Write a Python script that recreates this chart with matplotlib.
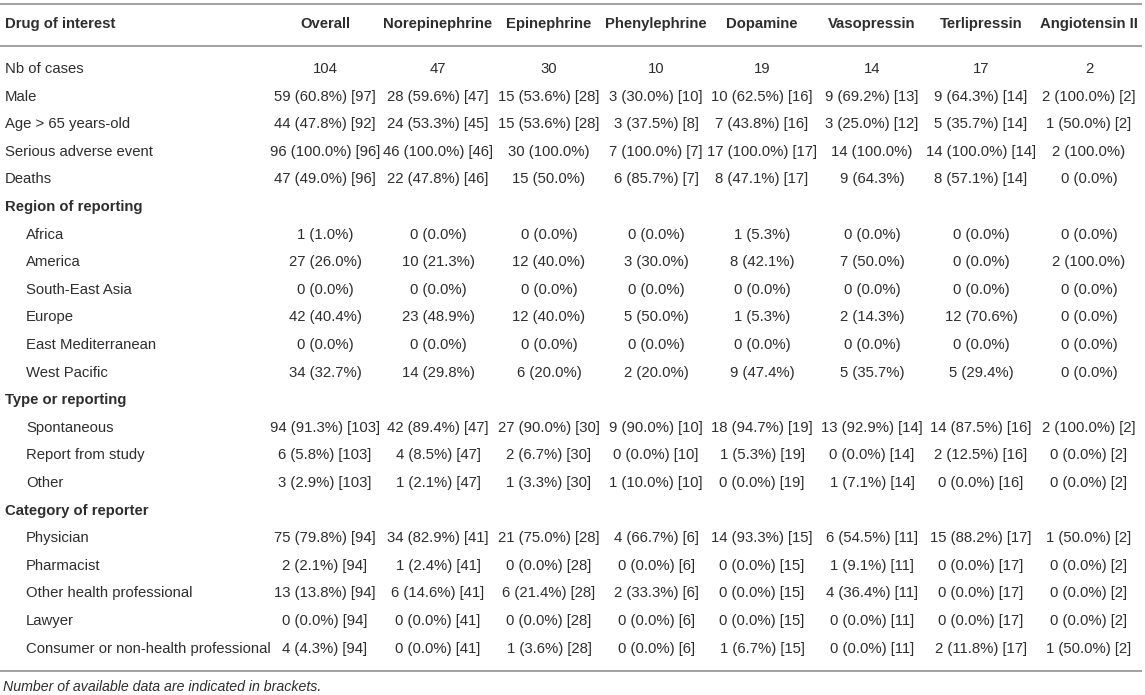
import matplotlib
matplotlib.use("Agg")
import matplotlib.pyplot as plt

plt.rcParams['font.family'] = ['Liberation Sans', 'DejaVu Sans']

# ---- data ----
drugs = ["Overall", "Norepinephrine", "Epinephrine", "Phenylephrine",
         "Dopamine", "Vasopressin", "Terlipressin", "Angiotensin II"]

nb_cases = ["104", "47", "30", "10", "19", "14", "17", "2"]
male = ["59 (60.8%) [97]", "28 (59.6%) [47]", "15 (53.6%) [28]", "3 (30.0%) [10]",
        "10 (62.5%) [16]", "9 (69.2%) [13]", "9 (64.3%) [14]", "2 (100.0%) [2]"]
age_65 = ["44 (47.8%) [92]", "24 (53.3%) [45]", "15 (53.6%) [28]", "3 (37.5%) [8]",
          "7 (43.8%) [16]", "3 (25.0%) [12]", "5 (35.7%) [14]", "1 (50.0%) [2]"]
serious = ["96 (100.0%) [96]", "46 (100.0%) [46]", "30 (100.0%)", "7 (100.0%) [7]",
           "17 (100.0%) [17]", "14 (100.0%)", "14 (100.0%) [14]", "2 (100.0%)"]
deaths = ["47 (49.0%) [96]", "22 (47.8%) [46]", "15 (50.0%)", "6 (85.7%) [7]",
          "8 (47.1%) [17]", "9 (64.3%)", "8 (57.1%) [14]", "0 (0.0%)"]

africa = ["1 (1.0%)", "0 (0.0%)", "0 (0.0%)", "0 (0.0%)", "1 (5.3%)", "0 (0.0%)", "0 (0.0%)", "0 (0.0%)"]
america = ["27 (26.0%)", "10 (21.3%)", "12 (40.0%)", "3 (30.0%)", "8 (42.1%)", "7 (50.0%)", "0 (0.0%)", "2 (100.0%)"]
se_asia = ["0 (0.0%)"] * 8
europe = ["42 (40.4%)", "23 (48.9%)", "12 (40.0%)", "5 (50.0%)", "1 (5.3%)", "2 (14.3%)", "12 (70.6%)", "0 (0.0%)"]
east_med = ["0 (0.0%)"] * 8
west_pacific = ["34 (32.7%)", "14 (29.8%)", "6 (20.0%)", "2 (20.0%)", "9 (47.4%)", "5 (35.7%)", "5 (29.4%)", "0 (0.0%)"]

spontaneous = ["94 (91.3%) [103]", "42 (89.4%) [47]", "27 (90.0%) [30]", "9 (90.0%) [10]",
               "18 (94.7%) [19]", "13 (92.9%) [14]", "14 (87.5%) [16]", "2 (100.0%) [2]"]
from_study = ["6 (5.8%) [103]", "4 (8.5%) [47]", "2 (6.7%) [30]", "0 (0.0%) [10]",
              "1 (5.3%) [19]", "0 (0.0%) [14]", "2 (12.5%) [16]", "0 (0.0%) [2]"]
other_type = ["3 (2.9%) [103]", "1 (2.1%) [47]", "1 (3.3%) [30]", "1 (10.0%) [10]",
              "0 (0.0%) [19]", "1 (7.1%) [14]", "0 (0.0%) [16]", "0 (0.0%) [2]"]

physician = ["75 (79.8%) [94]", "34 (82.9%) [41]", "21 (75.0%) [28]", "4 (66.7%) [6]",
             "14 (93.3%) [15]", "6 (54.5%) [11]", "15 (88.2%) [17]", "1 (50.0%) [2]"]
pharmacist = ["2 (2.1%) [94]", "1 (2.4%) [41]", "0 (0.0%) [28]", "0 (0.0%) [6]",
              "0 (0.0%) [15]", "1 (9.1%) [11]", "0 (0.0%) [17]", "0 (0.0%) [2]"]
other_health = ["13 (13.8%) [94]", "6 (14.6%) [41]", "6 (21.4%) [28]", "2 (33.3%) [6]",
                "0 (0.0%) [15]", "4 (36.4%) [11]", "0 (0.0%) [17]", "0 (0.0%) [2]"]
lawyer = ["0 (0.0%) [94]", "0 (0.0%) [41]", "0 (0.0%) [28]", "0 (0.0%) [6]",
          "0 (0.0%) [15]", "0 (0.0%) [11]", "0 (0.0%) [17]", "0 (0.0%) [2]"]
consumer = ["4 (4.3%) [94]", "0 (0.0%) [41]", "1 (3.6%) [28]", "0 (0.0%) [6]",
            "1 (6.7%) [15]", "0 (0.0%) [11]", "2 (11.8%) [17]", "1 (50.0%) [2]"]

footnote = "Number of available data are indicated in brackets."

# (label, values, kind) kind: "row", "section", "sub"
rows = [
    ("Nb of cases", nb_cases, "row"),
    ("Male", male, "row"),
    ("Age > 65 years-old", age_65, "row"),
    ("Serious adverse event", serious, "row"),
    ("Deaths", deaths, "row"),
    ("Region of reporting", None, "section"),
    ("Africa", africa, "sub"),
    ("America", america, "sub"),
    ("South-East Asia", se_asia, "sub"),
    ("Europe", europe, "sub"),
    ("East Mediterranean", east_med, "sub"),
    ("West Pacific", west_pacific, "sub"),
    ("Type or reporting", None, "section"),
    ("Spontaneous", spontaneous, "sub"),
    ("Report from study", from_study, "sub"),
    ("Other", other_type, "sub"),
    ("Category of reporter", None, "section"),
    ("Physician", physician, "sub"),
    ("Pharmacist", pharmacist, "sub"),
    ("Other health professional", other_health, "sub"),
    ("Lawyer", lawyer, "sub"),
    ("Consumer or non-health professional", consumer, "sub"),
]

# ---- layout (pixels) ----
W, H = 1145, 695
col_x = [325, 438, 549, 656, 762, 872, 981, 1089]
label_x, indent_x = 5, 26
header_y = 24
first_row_y = 69
row_h = 27.6
fs = 10.7
txt = "#2e2e2e"
rule = "#9a9a9a"

fig = plt.figure(figsize=(W / 100, H / 100), dpi=100)
ax = fig.add_axes([0, 0, 1, 1])
ax.set_xlim(0, W)
ax.set_ylim(H, 0)
ax.axis("off")

ax.text(label_x, header_y, "Drug of interest", fontsize=fs, fontweight="bold",
        color=txt, ha="left", va="center")
for x, d in zip(col_x, drugs):
    ax.text(x, header_y, d, fontsize=fs, fontweight="bold", color=txt,
            ha="center", va="center")

for i, (label, vals, kind) in enumerate(rows):
    y = first_row_y + i * row_h
    if kind == "section":
        ax.text(label_x, y, label, fontsize=fs, fontweight="bold", color=txt,
                ha="left", va="center")
        continue
    lx = indent_x if kind == "sub" else label_x
    ax.text(lx, y, label, fontsize=fs, color=txt, ha="left", va="center")
    for x, v in zip(col_x, vals):
        ax.text(x, y, v, fontsize=fs, color=txt, ha="center", va="center")

bottom_y = first_row_y + (len(rows) - 1) * row_h + 22
ax.hlines([4, 46, bottom_y], 0, W - 3, color=rule, lw=1.3)
ax.text(label_x - 2, bottom_y + 16, footnote, fontsize=fs * 0.95, style="italic",
        color=txt, ha="left", va="center")

fig.savefig("out.png", dpi=100)
